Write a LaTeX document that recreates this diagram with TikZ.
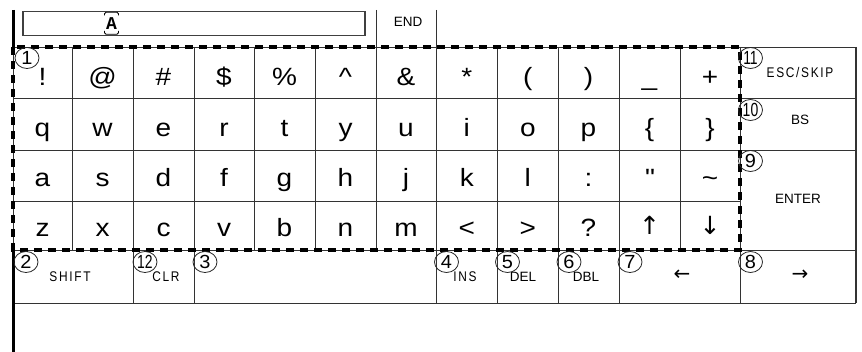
\documentclass[tikz,border=0pt]{standalone}
\usepackage{fontspec}
\setmainfont{Liberation Sans}
\newfontfamily\keyfont[FakeStretch=1.12]{Liberation Sans}
\newfontfamily\lblfont[FakeStretch=0.85,LetterSpace=12]{Liberation Sans}
\newfontfamily\numfont[FakeStretch=1.05]{Liberation Sans}
\newfontfamily\dispfont{Liberation Mono}
\newfontfamily\arrfont{DejaVu Sans}
\usetikzlibrary{shapes.geometric}
\tikzset{
  gridline/.style={draw=black!80, line width=0.9pt},
  thickline/.style={draw=black, line width=3pt},
  dashframe/.style={draw=black, line width=3.4pt, dash pattern=on 8pt off 6pt},
  keychar/.style={font=\keyfont\fontsize{25}{25}\selectfont, anchor=base, inner sep=0pt},
  arrowchar/.style={font=\arrfont\fontsize{25}{25}\selectfont, anchor=base, inner sep=0pt},
  lbl/.style={font=\lblfont\fontsize{14}{14}\selectfont, anchor=base, inner sep=0pt},
  plainlbl/.style={font=\fontsize{13.5}{13.5}\selectfont, anchor=base, inner sep=0pt},
  circnum/.style={draw=black!85, line width=0.8pt, ellipse, minimum width=24pt, minimum height=21pt, inner sep=0pt, font=\numfont\fontsize{19}{19}\selectfont},
}
\newcommand{\twodig}[1]{\scalebox{0.7}[1]{#1}}
\begin{document}
\begin{tikzpicture}[x=1pt,y=-1pt]
\useasboundingbox (0,0) rectangle (862,352);
% display box
\draw[draw=black!75, line width=1.3pt] (23,11.5) rectangle (365,35.5);
\node[font=\dispfont\bfseries\fontsize{18}{18}\selectfont, inner sep=0pt] (disp) at (111.5,24) {A};
\draw[line width=0.9pt, rounded corners=1.5pt] (104.5,15.5) -- (104.5,12.3) -- (118.5,12.3) -- (118.5,15.5);
\draw[line width=0.9pt, rounded corners=1.5pt] (104.5,31) -- (104.5,34.3) -- (118.5,34.3) -- (118.5,31);
% top cells (END)
\draw[gridline] (376,10) -- (376,47);
\draw[gridline] (436,10) -- (436,47);
\node[plainlbl] (endk) at (408,27) {END};
% grid horizontal lines
\draw[gridline] (13,47) -- (856,47);
\draw[gridline] (13,98.7) -- (856,98.7);
\draw[gridline] (13,150) -- (856,150);
\draw[gridline] (13,201) -- (740,201);
\draw[gridline] (13,250) -- (856,250);
\draw[gridline] (13,303) -- (856,303);
% grid vertical lines, key rows
\foreach \x in {72,133,194,254,315,376,436,497.7,558,619,680}
  \draw[gridline] (\x,47) -- (\x,250);
\draw[gridline] (740,47) -- (740,303);
\draw[draw=black!80, line width=1.4pt] (856,47) -- (856,303);
% bottom row verticals
\foreach \x in {133,194,436,497.7,558,619}
  \draw[gridline] (\x,250) -- (\x,303);
% left thick line
\draw[gridline] (13,47) -- (13,250);
\draw[thickline] (13,10) -- (13,47);
\draw[thickline] (13,250) -- (13,352);
% dashed frame
\draw[dashframe] (13,47) rectangle (740,250);
% row 1
\node[keychar] (k11) at (42.5,86) {!};
\node[keychar] (k12) at (102.5,86) {@};
\node[keychar] (k13) at (163.5,86) {\#};
\node[keychar] (k14) at (224,86) {\$};
\node[keychar] (k15) at (284.5,86) {\%};
\node[keychar] (k16) at (345.5,86) {\textasciicircum};
\node[keychar] (k17) at (406,86) {\&};
\node[keychar] (k18) at (466.8,86) {*};
\node[keychar] (k19) at (527.8,86) {(};
\node[keychar] (k110) at (588.5,86) {)};
\node[keychar] (k111) at (649.5,86) {\_};
\node[keychar] (k112) at (710,86) {+};
% row 2
\node[keychar] (k21) at (42.5,136.5) {q};
\node[keychar] (k22) at (102.5,136.5) {w};
\node[keychar] (k23) at (163.5,136.5) {e};
\node[keychar] (k24) at (224,136.5) {r};
\node[keychar] (k25) at (284.5,136.5) {t};
\node[keychar] (k26) at (345.5,136.5) {y};
\node[keychar] (k27) at (406,136.5) {u};
\node[keychar] (k28) at (466.8,136.5) {i};
\node[keychar] (k29) at (527.8,136.5) {o};
\node[keychar] (k210) at (588.5,136.5) {p};
\node[keychar] (k211) at (649.5,136.5) {\{};
\node[keychar] (k212) at (710,136.5) {\}};
% row 3
\node[keychar] (k31) at (42.5,187) {a};
\node[keychar] (k32) at (102.5,187) {s};
\node[keychar] (k33) at (163.5,187) {d};
\node[keychar] (k34) at (224,187) {f};
\node[keychar] (k35) at (284.5,187) {g};
\node[keychar] (k36) at (345.5,187) {h};
\node[keychar] (k37) at (406,187) {j};
\node[keychar] (k38) at (466.8,187) {k};
\node[keychar] (k39) at (527.8,187) {l};
\node[keychar] (k310) at (588.5,187) {:};
\node[keychar] (k311) at (649.5,187) {\textquotedbl};
\node[keychar] (k312) at (710,187) {\textasciitilde};
% row 4
\node[keychar] (k41) at (42.5,237) {z};
\node[keychar] (k42) at (102.5,237) {x};
\node[keychar] (k43) at (163.5,237) {c};
\node[keychar] (k44) at (224,237) {v};
\node[keychar] (k45) at (284.5,237) {b};
\node[keychar] (k46) at (345.5,237) {n};
\node[keychar] (k47) at (406,237) {m};
\node[keychar] (k48) at (466.8,237) {<};
\node[keychar] (k49) at (527.8,237) {>};
\node[keychar] (k410) at (588.5,237) {?};
\node[arrowchar] (k411) at (649.5,235) {↑};
\node[arrowchar] (k412) at (710,235) {↓};
% right column labels
\node[lbl] (esc) at (800,78) {ESC/SKIP};
\node[plainlbl] (bs) at (800,125) {BS};
\node[plainlbl] (enter) at (798,204) {ENTER};
% bottom row labels
\node[lbl] (shift) at (70,282) {SHIFT};
\node[lbl] (clr) at (166,282) {CLR};
\node[lbl] (ins) at (465,282) {INS};
\node[plainlbl] (del) at (523,282) {DEL};
\node[plainlbl] (dbl) at (586,282) {DBL};
\node[font=\arrfont\fontsize{20}{20}\selectfont, inner sep=0pt] (left) at (682,275) {←};
\node[font=\arrfont\fontsize{20}{20}\selectfont, inner sep=0pt] (right) at (800,275) {→};
% circled numbers
\node[circnum] (c1) at (27,58) {1};
\node[circnum] (c2) at (26,262) {2};
\node[circnum] (c3) at (205,262) {3};
\node[circnum] (c4) at (446.5,262) {4};
\node[circnum] (c5) at (507.5,262) {5};
\node[circnum] (c6) at (569,262) {6};
\node[circnum] (c7) at (630,262) {7};
\node[circnum] (c8) at (750.5,262) {8};
\node[circnum] (c9) at (750.5,161) {9};
\node[circnum] (c10) at (750.5,110) {\twodig{10}};
\node[circnum] (c11) at (750.5,58) {\twodig{11}};
\node[circnum] (c12) at (145,262) {\twodig{12}};
\end{tikzpicture}
\end{document}
